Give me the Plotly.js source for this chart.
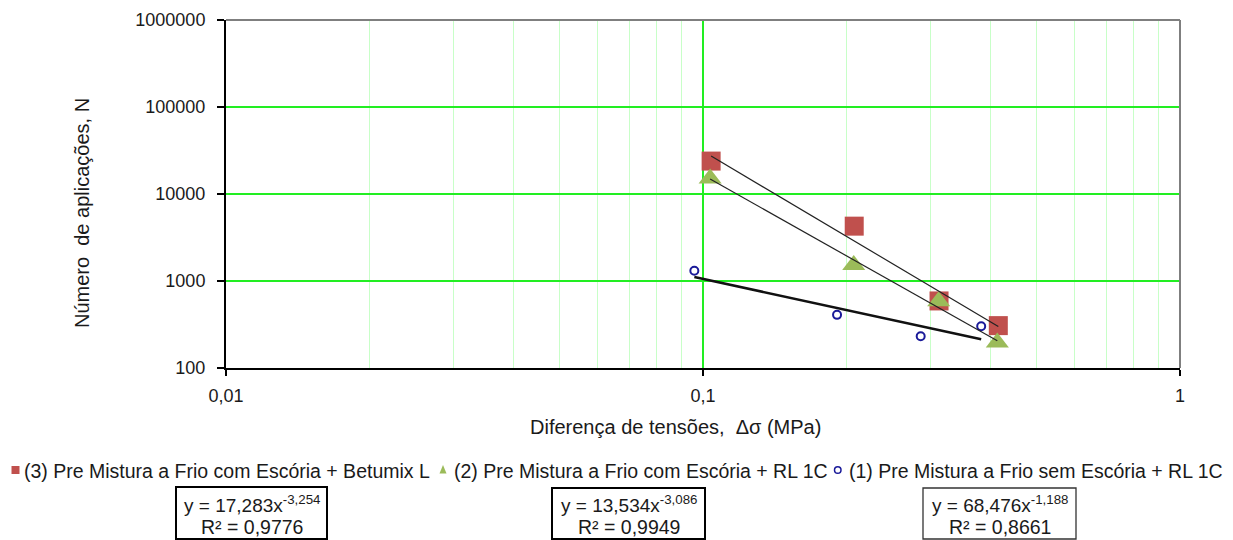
<!DOCTYPE html>
<html><head><meta charset="utf-8">
<script src="https://cdn.plot.ly/plotly-3.0.1.min.js"></script>
<style>html,body{margin:0;padding:0;background:#fff}#chart{width:1233px;height:540px}</style>
</head><body><div id="chart"></div>
<script>
// ---- data ----
const seriesNames = [
  '(3) Pre Mistura a Frio com Escória + Betumix L',
  '(2) Pre Mistura a Frio com Escória + RL 1C',
  '(1) Pre Mistura a Frio sem Escória + RL 1C'
];
const x3 = [0.104, 0.2075, 0.3125, 0.416];
const y3 = [23900, 4270, 590, 307];
const x2 = [0.1035, 0.207, 0.312, 0.414];
const y2 = [15100, 1530, 587, 196];
const x1 = [0.0959, 0.191, 0.286, 0.383];
const y1 = [1310, 408, 232, 302];
const fitA = [17.283, 13.534, 68.476];
const fitB = [-3.254, -3.086, -1.188];
const fitR2 = [0.9776, 0.9949, 0.8661];
const xTickVals = [0.01, 0.1, 1];
const xTickText = ['0,01', '0,1', '1'];
const xMinorVals = [0.02,0.03,0.04,0.05,0.06,0.07,0.08,0.09,0.2,0.3,0.4,0.5,0.6,0.7,0.8,0.9];
const yTickVals = [100, 1000, 10000, 100000, 1000000];
const yTickText = ['100', '1000', '10000', '100000', '1000000'];
const xTitle = 'Diferença de tensões,  Δσ (MPa)';
const yTitle = 'Número  de aplicações, N';

// ---- layout helpers (pixel -> paper) ----
const L = 226, R = 1180, T = 20, B = 368;
const px = v => (v - L) / (R - L);
const py = v => (B - v) / (B - T);
const FONT = 'Liberation Sans, Arial, sans-serif';
const TXT = '#1a1a1a';
const red = '#C0504D', green = '#9BBB59', blue = '#1a1a99';
const GRID = '#22ee22';
const comma = (v, d) => v.toFixed(d).replace('.', ',');

const xs = [x3, x2, x1];
function fitLine(i) {
  const xa = Math.min(...xs[i]), xb = Math.max(...xs[i]);
  return { x: [xa, xb], y: [fitA[i] * Math.pow(xa, fitB[i]), fitA[i] * Math.pow(xb, fitB[i])] };
}

const traces = [
  { x: x3, y: y3, mode: 'markers', type: 'scatter', name: seriesNames[0],
    marker: { symbol: 'square', size: 19, color: red, line: { width: 0 } } },
  { x: x2, y: y2, mode: 'markers', type: 'scatter', name: seriesNames[1],
    marker: { symbol: 'triangle-up', size: 20, color: green, line: { width: 0 } } },
  { x: x1, y: y1, mode: 'markers', type: 'scatter', name: seriesNames[2],
    marker: { symbol: 'circle-open', size: 8, color: blue, line: { width: 2, color: blue } } }
];
const fitStyles = [{ width: 1.2, color: '#222' }, { width: 1.2, color: '#222' }, { width: 2.6, color: '#111' }];
[0, 1, 2].forEach(i => {
  const f = fitLine(i);
  traces.push({ x: f.x, y: f.y, mode: 'lines', type: 'scatter', showlegend: false,
    line: fitStyles[i], hoverinfo: 'skip' });
});

const shapes = [
  { type: 'line', xref: 'paper', yref: 'paper', x0: 0, x1: 1, y0: 1, y1: 1, line: { color: '#7f7f7f', width: 2 } },
  { type: 'line', xref: 'paper', yref: 'paper', x0: 1, x1: 1, y0: 0, y1: 1, line: { color: '#7f7f7f', width: 2 } },
  // legend symbols
  { type: 'rect', xref: 'paper', yref: 'paper', x0: px(11.5), x1: px(19.5), y0: py(474), y1: py(466),
    fillcolor: red, line: { width: 0 } },
  { type: 'path', xref: 'paper', yref: 'paper',
    path: `M ${px(439.5)},${py(473.5)} L ${px(446.5)},${py(473.5)} L ${px(443)},${py(465)} Z`,
    fillcolor: green, line: { width: 0 } },
  { type: 'circle', xref: 'paper', yref: 'paper', x0: px(834.5), x1: px(841), y0: py(473.3), y1: py(466.7),
    line: { color: blue, width: 1.5 } },
  // equation boxes
  { type: 'rect', xref: 'paper', yref: 'paper', x0: px(176), x1: px(327), y0: py(539), y1: py(487), line: { color: '#000', width: 2 } },
  { type: 'rect', xref: 'paper', yref: 'paper', x0: px(552), x1: px(705), y0: py(539), y1: py(488), line: { color: '#000', width: 2 } },
  { type: 'rect', xref: 'paper', yref: 'paper', x0: px(923), x1: px(1076), y0: py(539), y1: py(488), line: { color: '#333', width: 1.3 } }
];

const ann = [];
function addText(text, xpx, ypx, size, xanchor, extra) {
  ann.push(Object.assign({ text, xref: 'paper', yref: 'paper', x: px(xpx), y: py(ypx),
    xanchor: xanchor || 'center', yanchor: 'middle', showarrow: false,
    font: { family: FONT, size: size, color: TXT } }, extra || {}));
}
addText(seriesNames[0], 22, 471, 19.5, 'left');
addText(seriesNames[1], 452, 471, 19.5, 'left');
addText(seriesNames[2], 847, 471, 19.5, 'left');
addText(xTitle, 675, 427, 20, 'center');
addText(yTitle, 82, 213, 20, 'center', { textangle: -90 });
const boxCx = [251.5, 628.5, 999.5];
[0, 1, 2].forEach(i => {
  addText('y = ' + comma(fitA[i], 3) + 'x<sup>' + comma(fitB[i], 3) + '</sup>',
    boxCx[i], 504, 19, 'center');
  addText('R² = ' + comma(fitR2[i], 4), boxCx[i], 527, 19.5, 'center');
});

const layout = {
  width: 1233, height: 540,
  margin: { l: L, r: 1233 - R, t: T, b: 540 - B, pad: 0 },
  paper_bgcolor: '#fff', plot_bgcolor: '#fff',
  showlegend: false,
  font: { family: FONT, size: 18, color: TXT },
  xaxis: {
    type: 'log', range: [-2, 0], tickmode: 'array', tickvals: xTickVals, ticktext: xTickText,
    ticks: 'outside', ticklen: 6, tickwidth: 1.5, tickcolor: '#000', ticklabelstandoff: 4,
    showline: true, linecolor: '#000', linewidth: 2, zeroline: false,
    showgrid: true, gridcolor: GRID, gridwidth: 1.5,
    minor: { tickmode: 'array', tickvals: xMinorVals, showgrid: true, gridcolor: '#c8ffc8', gridwidth: 1.2, ticks: '' },
    tickfont: { family: FONT, size: 18, color: TXT }
  },
  yaxis: {
    type: 'log', range: [2, 6], tickmode: 'array', tickvals: yTickVals, ticktext: yTickText,
    ticks: 'outside', ticklen: 7, tickwidth: 1.5, tickcolor: '#000', ticklabelstandoff: 8,
    showline: true, linecolor: '#000', linewidth: 2, zeroline: false,
    showgrid: true, gridcolor: GRID, gridwidth: 2,
    tickfont: { family: FONT, size: 18, color: TXT }
  },
  shapes, annotations: ann
};
Plotly.newPlot('chart', traces, layout, { displayModeBar: false, staticPlot: true });
</script></body></html>
